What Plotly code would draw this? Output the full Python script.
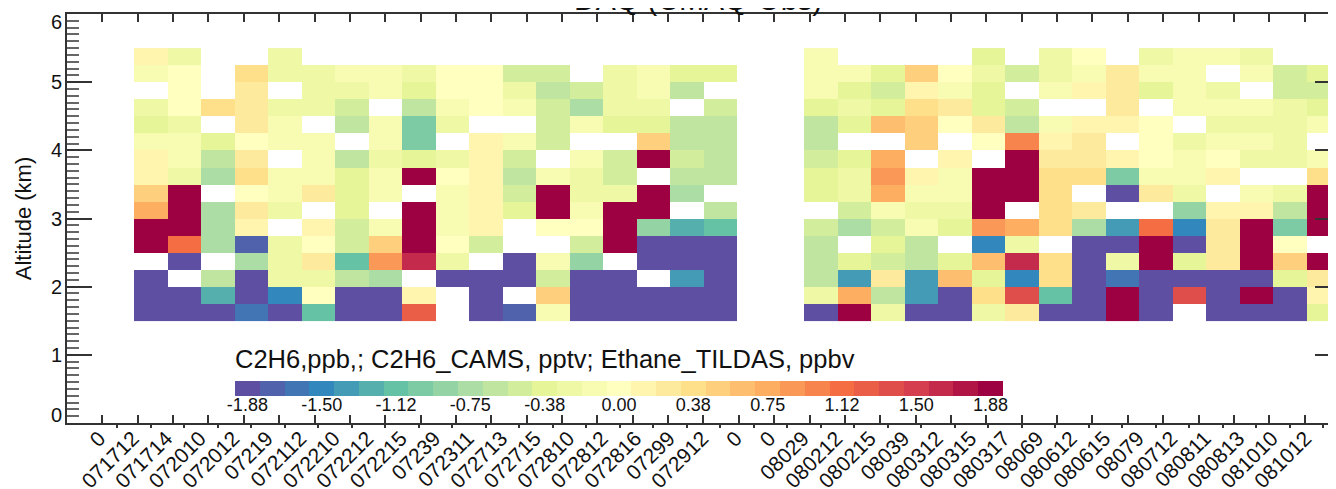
import numpy as np
import plotly.graph_objects as go
import plotly.colors as pc

# ---------------- data ----------------
flight_labels = ["0", "071712", "071714", "072010", "072012", "07219", "072112", "072210",
                 "072212", "072215", "07239", "072311", "072713", "072715", "072810", "072812",
                 "072816", "07299", "072912", "0", "0", "08029", "080212", "080215", "08039",
                 "080312", "080315", "080317", "08069", "080612", "080615", "08079", "080712",
                 "080811", "080813", "081010", "081012"]

altitudes = [1.625, 1.875, 2.125, 2.375, 2.625, 2.875, 3.125, 3.375,
             3.625, 3.875, 4.125, 4.375, 4.625, 4.875, 5.125, 5.375]

N = None
# DAQ (CMAQ-Obs) per flight profile, bottom (1.625 km) -> top (5.375 km)
v_blank = [N] * 16
v_071712 = [-2, -2, -2, N, 2, 2, 0.75, 0.5, 0.125, 0.125, -0.125, -0.375, -0.25, N, -0.125, 0.125]
v_071714 = [-2, -2, N, -2, 1.125, 2, 2, 2, -0.25, -0.125, -0.125, -0.25, 0, 0, 0, -0.25]
v_072010 = [-2, -1.25, -0.625, N, -0.75, -0.75, -0.75, N, -0.75, -0.625, -0.375, N, 0.375, N, N, N]
v_072012 = [-1.625, -2, -2, -0.75, -1.75, 0.125, 0.25, 0, 0.375, 0.25, 0, 0.25, 0.25, 0.25, 0.375, N]
v_07219 = [-2, -1.5, -0.25, -0.25, -0.25, N, -0.25, -0.125, -0.125, N, -0.125, -0.125, -0.25, N, -0.25, -0.25]
v_072112 = [-1.125, 0, -0.25, 0.25, 0, 0.125, N, 0.25, -0.125, -0.125, -0.125, N, -0.25, -0.25, -0.25, N]
v_072210 = [-2, -2, -0.625, -1.125, -0.5, -0.5, -0.375, -0.375, -0.375, -0.625, N, -0.625, -0.5, -0.25, -0.125, N]
v_072212 = [-2, -2, -0.75, 0.875, 0.5, -0.125, N, -0.125, -0.125, -0.25, -0.125, -0.125, N, -0.125, -0.125, N]
v_072215 = [1.25, 0.125, N, 1.625, 2, 2, 2, N, 2, -0.375, -1.0, -1.0, -0.625, -0.375, -0.25, N]
v_07239 = [N, N, -2, -0.25, 0, -0.125, -0.125, -0.125, 0, -0.25, N, -0.25, -0.125, 0, 0, N]
v_072311 = [-2, -2, -2, N, -0.5, 0.125, 0.125, 0.125, 0.125, 0.125, 0.125, N, 0, 0, 0, N]
v_072713 = [-1.75, N, -2, -2, N, N, -0.375, -0.5, -0.625, -0.5, -0.125, N, -0.125, -0.25, -0.5, N]
v_072715 = [-0.125, 0.5, -0.5, -0.125, N, 0, 2, 2, -0.125, N, -0.5, -0.5, -0.5, -0.625, -0.5, N]
v_072810 = [-2, -2, -2, -0.875, -0.5, 0, -0.125, -0.25, -0.25, -0.125, N, -0.125, -0.75, -0.5, N, N]
v_072812 = [-2, -2, -2, N, 2, 2, 2, -0.25, -0.5, -0.5, N, -0.375, -0.25, -0.25, -0.25, N]
v_072816 = [-2, -2, N, -2, -2, -0.875, 2, 2, N, 2, 0.5, -0.375, -0.25, -0.125, -0.125, N]
v_07299 = [-2, -2, -1.375, -2, -2, -1.25, N, -0.75, -0.625, -0.5, -0.625, -0.625, N, -0.625, -0.375, N]
v_072912 = [-2, -2, -2, -2, -2, -1.125, -0.625, N, -0.625, -0.625, -0.625, -0.625, -0.5, N, -0.375, N]
v_08029 = [-2, -0.25, -0.625, -0.625, -0.625, -0.5, N, -0.375, -0.375, -0.5, -0.625, -0.625, -0.375, -0.125, -0.125, -0.125]
v_080212 = [2, 0.75, -1.375, -0.375, N, -0.75, -0.5, -0.25, -0.25, -0.375, N, -0.375, -0.25, -0.375, -0.125, N]
v_080215 = [-0.25, -0.625, 0.25, -0.5, -0.375, -0.5, -0.125, 0.75, 0.875, 0.75, N, 0.625, -0.375, -0.5, -0.375, N]
v_08039 = [-2, -1.375, -1.375, -0.625, -0.625, -0.125, -0.25, -0.125, 0.125, N, 0.5, 0.5, 0.375, 0.125, 0.5, N]
v_080312 = [-2, -2, 0.625, -0.375, N, -0.375, -0.25, -0.125, -0.125, 0.125, N, 0, 0.25, -0.125, 0, N]
v_080315 = [-0.25, 0.375, -0.375, 0.625, -1.5, 0.875, 2, 2, 2, N, 0, 0.25, -0.375, -0.375, -0.25, -0.375]
v_080317 = [0.25, 1.375, -1.5, 1.625, -0.25, 0.75, N, 2, 2, 2, 1.0, -0.625, -0.5, N, -0.5, N]
v_08069 = [-2, -1.125, 0.375, 0.375, N, 0.375, 0.375, 0.375, 0.375, 0.25, 0.125, -0.125, N, -0.125, -0.25, -0.25]
v_080612 = [-2, -2, -2, -2, -2, -0.75, 0.25, N, 0.375, 0.25, 0.25, 0.125, N, 0.125, -0.125, 0]
v_080615 = [2, 2, -1.625, -0.25, -2, -1.375, N, -2, -1.0, 0.125, N, 0.125, 0.25, 0.25, 0.25, N]
v_08079 = [-2, -2, -2, 2, 2, 1.125, N, 0.25, -0.125, 0, 0, 0, N, -0.375, -0.125, -0.25]
v_080712 = [N, 1.375, -2, -0.375, -2, -1.5, -0.875, -0.25, -0.125, -0.125, -0.25, N, -0.125, -0.125, -0.125, -0.125]
v_080811 = [-2, -2, -2, 0.25, 0.25, 0.25, 0.125, N, 0.125, 0, -0.125, -0.25, -0.125, -0.25, N, -0.125]
v_080813 = [-2, 2, -2, 2, 2, 2, 0.125, -0.125, N, -0.25, -0.125, -0.25, -0.125, N, -0.125, -0.25]
v_081010 = [-2, -2, -0.375, 0.5, 0, -1.0, -0.625, -0.25, N, -0.25, -0.25, -0.25, -0.25, -0.5, -0.5, N]
v_081012 = [-0.375, 0.125, 0.25, 2, N, 2, 2, 2, 0.375, -0.125, N, -0.125, -0.375, -0.5, -0.375, N]

profiles = [v_blank, v_071712, v_071714, v_072010, v_072012, v_07219, v_072112, v_072210,
            v_072212, v_072215, v_07239, v_072311, v_072713, v_072715, v_072810, v_072812,
            v_072816, v_07299, v_072912, v_blank, v_blank, v_08029, v_080212, v_080215, v_08039,
            v_080312, v_080315, v_080317, v_08069, v_080612, v_080615, v_08079, v_080712,
            v_080811, v_080813, v_081010, v_081012]

cbar_tickvals = [-1.875, -1.5, -1.125, -0.75, -0.375, 0.0, 0.375, 0.75, 1.125, 1.5, 1.875]
cbar_ticktext = ["-1.88", "-1.50", "-1.12", "-0.75", "-0.38", "0.00", "0.38", "0.75", "1.12", "1.50", "1.88"]
cbar_title = "C2H6,ppb,; C2H6_CAMS, pptv; Ethane_TILDAS, ppbv"
chart_title = "DAQ (CMAQ-Obs)"

# altitude labels: end labels sit just inside the frame, as in the reference
alt_label_pos = [0.117, 1, 2, 3, 4, 5, 5.883]
alt_label_text = ["0", "1", "2", "3", "4", "5", "6"]

# ---------------- build ----------------
z = np.array([[np.nan if v is None else v for v in col] for col in profiles], dtype=float).T
x_idx = list(range(len(flight_labels)))

spectral = ['rgb(158,1,66)', 'rgb(213,62,79)', 'rgb(244,109,67)', 'rgb(253,174,97)',
            'rgb(254,224,139)', 'rgb(255,255,191)', 'rgb(230,245,152)', 'rgb(171,221,164)',
            'rgb(102,194,165)', 'rgb(50,136,189)', 'rgb(94,79,162)'][::-1]
base_cs = pc.make_colorscale(spectral)
nbins = 31
bin_cols = pc.sample_colorscale(base_cs, [i / (nbins - 1) for i in range(nbins)])
colorscale = []
for i, c in enumerate(bin_cols):
    colorscale.append([i / nbins, c])
    colorscale.append([(i + 1) / nbins, c])
half = 0.125 * nbins / 2

# the page body adds an 8px offset; figure sized so the plot area lands where the reference has it
OFF = 8
W, H = 1332, 481
ML, MR, MT, MB = 59, 0, 6, 66
pw = W - ML - MR          # 1273
ph = H - MT - MB          # 409
PL = OFF + ML             # plot left on screen (67)
PB = OFF + MT + ph        # plot bottom on screen (423)
cell_px = 33.5
x_lo = -1.5
x_hi = x_lo + pw / cell_px


def px_x(sx):
    return (sx - PL) / pw


def px_y(sy):
    return (PB - sy) / ph


CB_L, CB_R = 235, 1003

fig = go.Figure()
fig.add_trace(go.Heatmap(
    x=x_idx, y=altitudes, z=z,
    colorscale=colorscale, zmin=-half, zmax=half,
    hoverongaps=False,
    colorbar=dict(
        orientation="h",
        x=px_x((CB_L + CB_R) / 2), xanchor="center",
        y=px_y(381), yanchor="top",
        len=CB_R - CB_L, lenmode="pixels", thickness=15,
        outlinewidth=0, xpad=0, ypad=0,
        showticklabels=False, ticks="",
    ),
))

axcol = "#333"
fig.update_layout(
    width=W, height=H,
    margin=dict(l=ML, r=MR, t=MT, b=MB, pad=0, autoexpand=False),
    paper_bgcolor="white", plot_bgcolor="rgba(0,0,0,0)",
    font=dict(family="Liberation Sans, Arial, sans-serif", color="#111"),
    xaxis=dict(range=[x_lo, x_hi], tickmode="array", tickvals=x_idx, ticktext=flight_labels,
               tickangle=-45, ticks="outside", ticklen=3, tickwidth=1.5, tickcolor=axcol,
               ticklabelshift=-18, ticklabelstandoff=-10, ticklabeloverflow="allow",
               showline=True, linecolor=axcol, linewidth=1.5, mirror=True, automargin=False,
               showgrid=False, zeroline=False, tickfont=dict(size=21)),
    xaxis2=dict(overlaying="x", anchor="y", side="bottom", range=[0, pw / 35.36],
                tickmode="linear", tick0=0, dtick=1, ticks="inside", ticklen=8,
                tickwidth=1.5, tickcolor=axcol, showticklabels=False, showline=False,
                mirror="ticks", showgrid=False, zeroline=False, automargin=False),
    # scale axis carrying the colour-bar tick labels
    xaxis3=dict(domain=[px_x(CB_L), px_x(CB_R)], anchor="free", position=px_y(396),
                range=[-half, half], tickmode="array", tickvals=cbar_tickvals,
                ticktext=cbar_ticktext, ticks="", showline=False, showgrid=False,
                ticklabelstandoff=-4, ticklabeloverflow="allow",
                zeroline=False, automargin=False, tickfont=dict(size=18, color="#111")),
    yaxis=dict(range=[0, 6], tickmode="linear", tick0=0, dtick=1,
               ticks="inside", ticklen=25, tickwidth=1.5, tickcolor=axcol,
               minor=dict(dtick=0.1, ticks="inside", ticklen=12, tickwidth=1.5, tickcolor="#666"),
               showline=True, linecolor=axcol, linewidth=1.5, mirror=False, automargin=False,
               showticklabels=False, showgrid=False, zeroline=False),
    yaxis2=dict(overlaying="y", anchor="x", side="right", range=[0, 6],
                tickmode="linear", tick0=0, dtick=1,
                ticks="inside", ticklen=25, tickwidth=1.5, tickcolor=axcol,
                minor=dict(dtick=0.1, ticks="inside", ticklen=12, tickwidth=1.5, tickcolor="#666"),
                showticklabels=False, showline=False, showgrid=False, zeroline=False,
                automargin=False),
    yaxis3=dict(overlaying="y", anchor="x", side="left", range=[0, 6],
                tickmode="array", tickvals=alt_label_pos, ticktext=alt_label_text,
                ticks="", showline=False, showgrid=False, zeroline=False, automargin=False,
                ticklabeloverflow="allow", ticklabelstandoff=4, tickfont=dict(size=20),
                title=dict(text="Altitude (km)", font=dict(size=22), standoff=13)),
    annotations=[
        dict(text=cbar_title, x=px_x(233), y=px_y(375), xref="paper", yref="paper",
             xanchor="left", yanchor="bottom", showarrow=False,
             font=dict(size=25.5, color="#111")),
        dict(text=chart_title, x=px_x(698), y=px_y(-1), xref="paper", yref="paper",
             xanchor="center", yanchor="middle", showarrow=False,
             font=dict(size=30, color="#111")),
    ],
)
# invisible anchor traces so the overlay / scale axes are drawn
for xa, ya in [("x2", "y"), ("x", "y2"), ("x3", "y"), ("x", "y3")]:
    fig.add_trace(go.Scatter(x=[0], y=[0], xaxis=xa, yaxis=ya, mode="markers",
                             marker=dict(opacity=0), showlegend=False, hoverinfo="skip"))

fig.write_html("out.html")
